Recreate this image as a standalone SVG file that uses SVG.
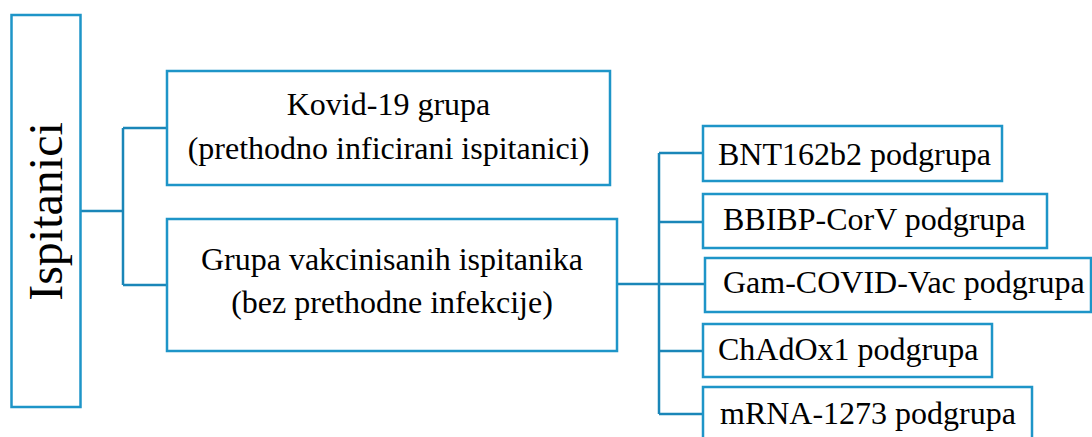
<svg xmlns="http://www.w3.org/2000/svg" width="1092" height="437" viewBox="0 0 1092 437">
<style>
.box{fill:#fff;stroke:#1e95c8;stroke-width:2.5}
.con{fill:none;stroke:#1a86b8;stroke-width:2.5}
text{font-family:"Liberation Serif","Times New Roman",serif;fill:#000;font-size:32px}
.c{text-anchor:middle}
</style>
<rect width="1092" height="437" fill="#fff"/>
<g id="connectors">
<path class="con" d="M81 211H123M123 128V285M123 128H167M123 285H167"/>
<path class="con" d="M617 284H659M659 153V414M659 153H703M659 222H703M659 284H705M659 351H703M659 414H703"/>
</g>
<g id="ispitanici">
<rect class="box" x="11.5" y="15" width="69" height="392"/>
<text class="c" font-size="48" transform="translate(62 211.5) rotate(-90)" style="font-size:48px">Ispitanici</text>
</g>
<g id="kovid">
<rect class="box" x="167" y="71" width="443" height="114"/>
<text class="c" x="388.5" y="115">Kovid-19 grupa</text>
<text class="c" x="388.5" y="159">(prethodno inficirani ispitanici)</text>
</g>
<g id="vakcinisani">
<rect class="box" x="167" y="219" width="450" height="132"/>
<text class="c" x="392" y="270">Grupa vakcinisanih ispitanika</text>
<text class="c" x="392" y="313">(bez prethodne infekcije)</text>
</g>
<g id="bnt">
<rect class="box" x="703" y="126" width="299" height="55"/>
<text x="718" y="165">BNT162b2 podgrupa</text>
</g>
<g id="bbibp">
<rect class="box" x="703" y="194" width="344" height="54"/>
<text x="723" y="230">BBIBP-CorV podgrupa</text>
</g>
<g id="gam">
<rect class="box" x="705" y="258" width="386" height="54"/>
<text x="723" y="293">Gam-COVID-Vac podgrupa</text>
</g>
<g id="chadox">
<rect class="box" x="703" y="324" width="289" height="53"/>
<text x="718" y="360">ChAdOx1 podgrupa</text>
</g>
<g id="mrna">
<rect class="box" x="703" y="387" width="329" height="60"/>
<text x="720" y="424">mRNA-1273 podgrupa</text>
</g>
</svg>
